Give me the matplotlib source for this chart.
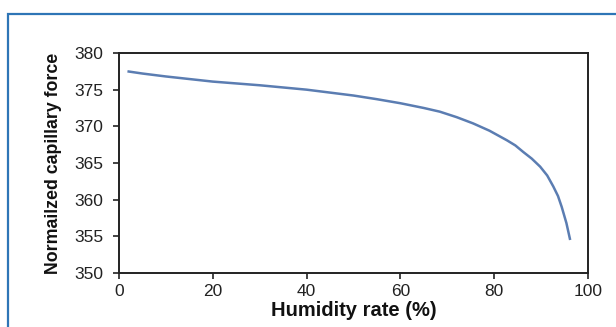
import matplotlib.pyplot as plt
from matplotlib.patches import Rectangle

# values
humidity = [1.8, 5, 10, 20, 30, 40, 50, 55, 60, 65, 68.4, 72, 75.5, 79, 82.7, 84.5, 86.2, 88, 89.8,
            91.3, 92.6, 93.6, 94.4, 95.4, 96.2]
force = [377.5, 377.2, 376.8, 376.1, 375.6, 375.0, 374.2, 373.7, 373.15, 372.5, 372.0, 371.25, 370.4, 369.4, 368.1,
         367.4, 366.5, 365.6, 364.5, 363.3, 361.8, 360.5, 359.0, 356.8, 354.5]

xticks = [0, 20, 40, 60, 80, 100]
yticks = [350, 355, 360, 365, 370, 375, 380]

plt.rcParams['font.family'] = ['Liberation Sans', 'DejaVu Sans']

fig = plt.figure(figsize=(6.16, 3.27), dpi=100)
W, H = 616, 327
ax = fig.add_axes([119 / W, 1 - 273 / H, (588 - 119) / W, (273 - 53) / H])

ax.plot(humidity, force, color='#5b7db2', lw=1.8, solid_capstyle='butt')
ax.set_xlim(0, 100)
ax.set_ylim(350, 380)
ax.set_xticks(xticks)
ax.set_yticks(yticks)
ax.tick_params(direction='out', length=4, width=1.2, labelsize=12.5, colors='#222222')
ax.tick_params(axis='y', pad=7)
ax.tick_params(axis='x', pad=4)
for s in ax.spines.values():
    s.set_linewidth(1.4)
    s.set_color('#222222')
ax.set_xlabel('Humidity rate (%)', fontsize=14.5, fontweight='bold', labelpad=1, color='#111111')
ax.set_ylabel('Normailzed capillary force', fontsize=12.8, fontweight='bold', labelpad=9, color='#111111')

# blue frame around the picture
fig.patches.append(Rectangle((8 / W, -0.05), 1.1, 1 - 14 / H + 0.05, transform=fig.transFigure,
                             fill=False, edgecolor='#2e75b6', lw=1.6))

fig.savefig('out.png', dpi=100)
